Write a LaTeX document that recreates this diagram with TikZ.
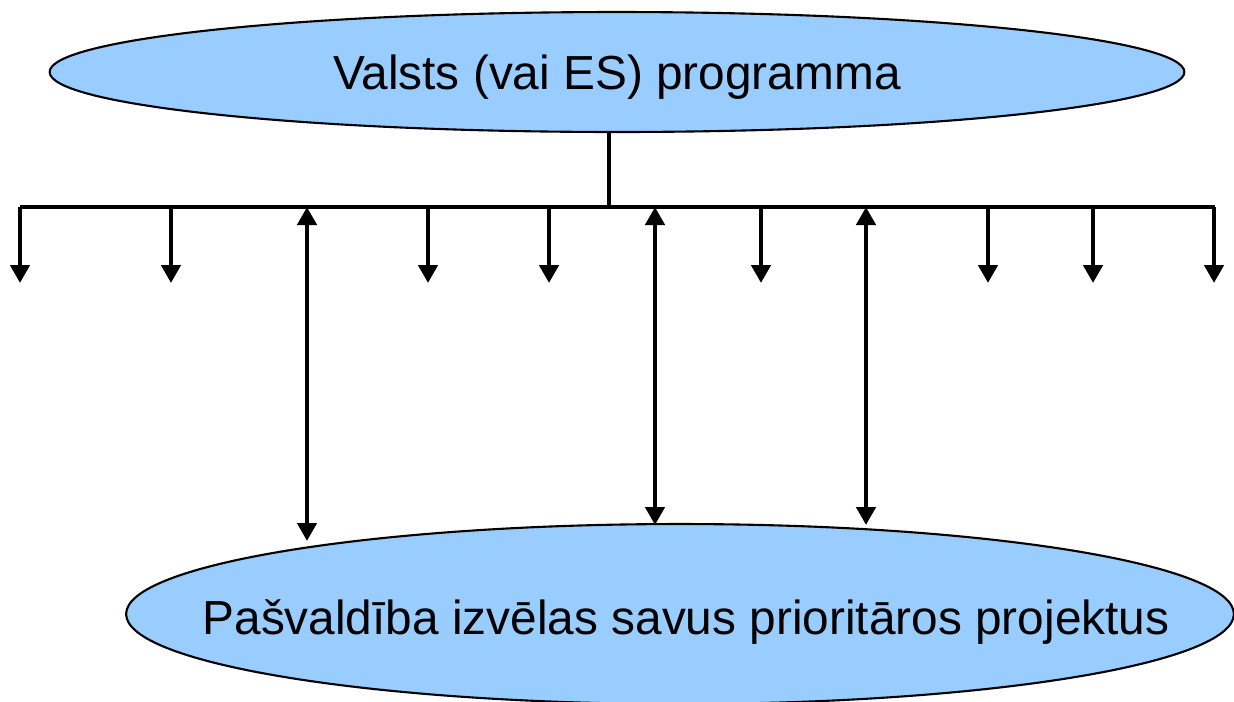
\documentclass[tikz,border=0pt]{standalone}
\usepackage{fontspec}
\setmainfont{Liberation Sans}
\usetikzlibrary{arrows.meta,shapes.geometric}
\definecolor{ellfill}{HTML}{99CCFF}
\tikzset{
  ell/.style={ellipse,draw=black,line width=1.2pt,fill=ellfill,inner sep=0pt},
  conn/.style={line width=2.8pt,black},
  tip/.style={-{Triangle[width=0.38cm,length=0.36cm]}},
  dtip/.style={{Triangle[width=0.38cm,length=0.36cm]}-{Triangle[width=0.38cm,length=0.36cm]}},
  lbl/.style={font=\fontsize{27.2pt}{32pt}\selectfont}
}
\begin{document}
\begin{tikzpicture}[x={(0.02cm,0)},y={(0,-0.02cm)}]
\useasboundingbox (0,0) rectangle (1234,701);
\clip (0,0) rectangle (1234,701);
\node[ell,minimum width=22.7cm,minimum height=2.4cm] (top) at (617,72) {};
\node[lbl] (toptxt) at (617,77) {Valsts (vai ES) programma};
\node[ell,minimum width=22.16cm,minimum height=3.6cm] (bot) at (680,614) {};
\node[lbl] (bottxt) at (686,622) {Pašvaldība izvēlas savus prioritāros projektus};
% bus
\coordinate (bl) at (20,207);
\coordinate (br) at (1215,207);
\coordinate (bm) at (609,207);
\draw[conn] (bl) -- (br);
\draw[conn] (top.south -| bm) -- (bm);
% down arrows
\foreach \x/\n in {20/a,171/b,428/c,549/d,761/e,988/f,1093/g,1214/h}{
  \coordinate (s\n) at (\x,207);
  \coordinate (e\n) at (\x,283);
  \draw[conn,tip] (s\n) -- (e\n);
}
% double arrows
\coordinate (d1s) at (307,207); \coordinate (d1e) at (307,541);
\draw[conn,dtip] (d1s) -- (d1e);
\coordinate (d2s) at (655,207); \coordinate (d2e) at (655,525);
\draw[conn,dtip] (d2s) -- (d2e);
\coordinate (d3s) at (866,207); \coordinate (d3e) at (866,525);
\draw[conn,dtip] (d3s) -- (d3e);
\end{tikzpicture}
\end{document}
